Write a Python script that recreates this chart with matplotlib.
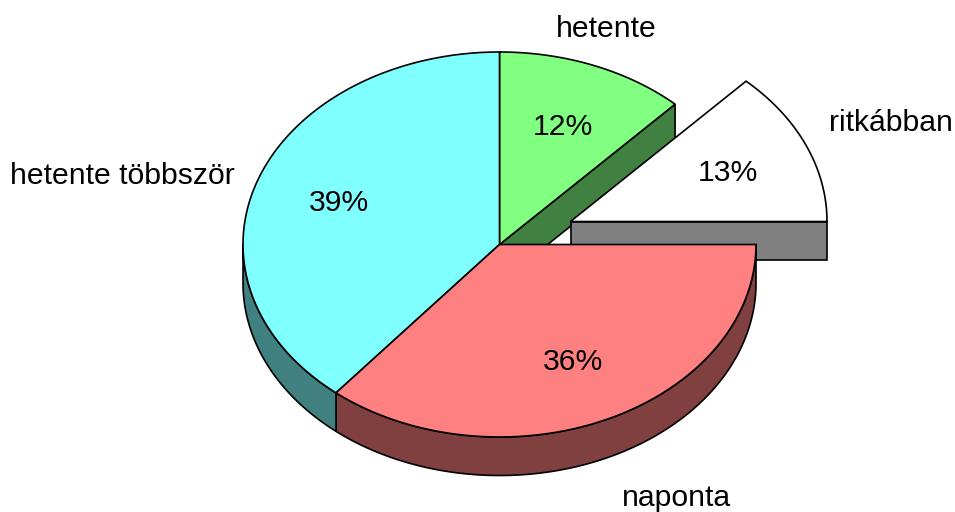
import numpy as np
import matplotlib
matplotlib.use("Agg")
import matplotlib.pyplot as plt

plt.rcParams['font.family'] = ['Liberation Sans', 'DejaVu Sans']

# adatok
labels = ['hetente', 'ritkábban', 'naponta', 'hetente többször']
values = [12, 13, 36, 39]
top_colors = ['#80ff80', '#ffffff', '#ff8080', '#80ffff']
side_colors = ['#408040', '#808080', '#804040', '#408080']

# a torta geometriaja (pixelben)
cx, cy = 499.5, 244.5
rx, ry = 256.5, 192.5
depth = 38.5
explode = {1: (71, -23)}
lw = 1.2

fig = plt.figure(figsize=(9.55, 5.12), dpi=100)
ax = fig.add_axes([0, 0, 1, 1])
ax.set_xlim(0, 955)
ax.set_ylim(512, 0)
ax.axis('off')

edges = np.cumsum([0] + values) / sum(values)


def arc(f0, f1, dx=0, dy=0):
    t = np.linspace(f0, f1, 200) * 2 * np.pi
    return cx + dx + rx * np.sin(t), cy + dy - ry * np.cos(t)


def draw_top(i):
    dx, dy = explode.get(i, (0, 0))
    x, y = arc(edges[i], edges[i + 1], dx, dy)
    ax.fill(np.r_[cx + dx, x], np.r_[cy + dy, y], fc=top_colors[i], ec='black',
            lw=lw, joinstyle='miter')


def draw_cut(i, f, dx=0, dy=0):
    # a szelet egyenes oldala a kozeppont es az iv kozott
    x, y = arc(f, f, dx, dy)
    ax.fill([cx + dx, x[0], x[0], cx + dx], [cy + dy, y[0], y[0] + depth, cy + dy + depth],
            fc=side_colors[i], ec='black', lw=lw, joinstyle='miter')


def draw_rim(i, f0, f1):
    x, y = arc(f0, f1)
    ax.fill(np.r_[x, x[::-1]], np.r_[y, y[::-1] + depth], fc=side_colors[i], ec='black',
            lw=lw, joinstyle='miter')


# hatulrol elore
draw_cut(0, edges[1])
draw_cut(1, edges[2], *explode[1])
draw_top(1)
draw_top(0)
draw_rim(2, edges[2], edges[3])
draw_rim(3, edges[3], 0.75)
draw_top(3)
draw_top(2)

# feliratok
label_pos = [(606, 29), (891, 123), (122, 176), (677, 497.5)]
label_idx = [0, 1, 3, 2]
pct_pos = [(563, 127), (728, 173), (573, 362), (339, 203)]
for (x, y), i in zip(label_pos, label_idx):
    ax.text(x, y, labels[i], ha='center', va='center', fontsize=21.7, color='black')
for (x, y), v in zip(pct_pos, values):
    ax.text(x, y, f'{v}%', ha='center', va='center', fontsize=21.7, color='black')

fig.savefig('out.png', dpi=100)
